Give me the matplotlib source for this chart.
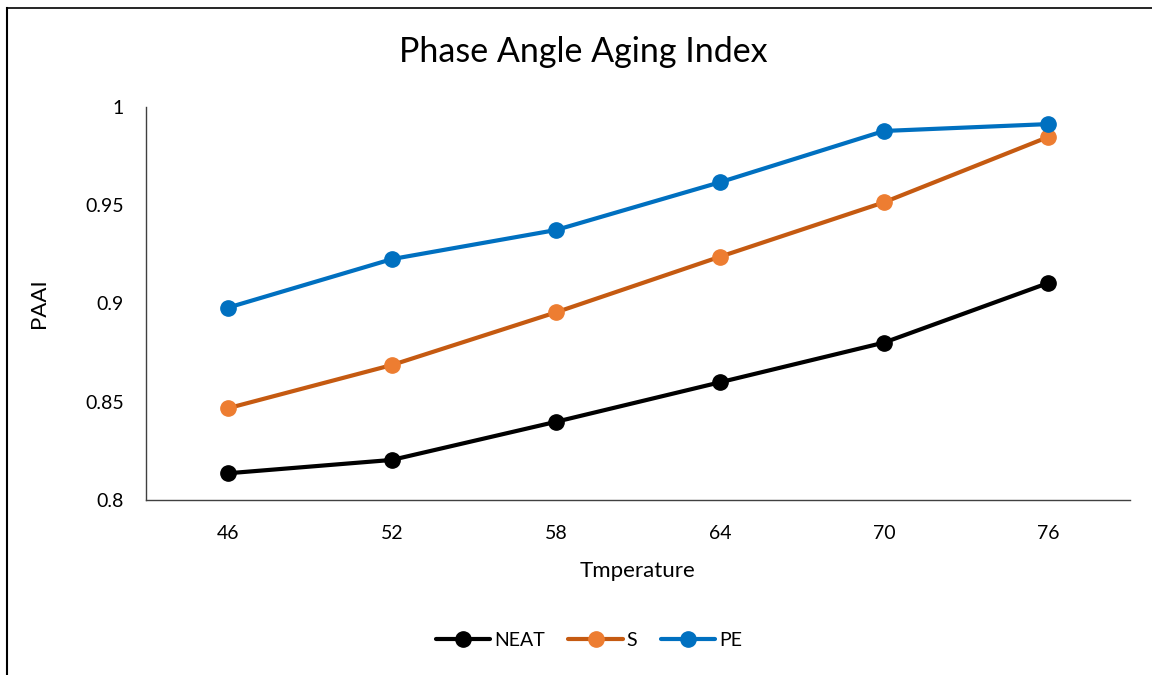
import matplotlib
matplotlib.use('Agg')
import matplotlib.pyplot as plt
from matplotlib.lines import Line2D

temps = ['46', '52', '58', '64', '70', '76']
neat = [0.8136, 0.8204, 0.8398, 0.8599, 0.8801, 0.9104]
s_mod = [0.8467, 0.8687, 0.8955, 0.9238, 0.9515, 0.9847]
pe_mod = [0.8979, 0.9226, 0.9374, 0.9617, 0.9878, 0.9913]
yticks = [0.8, 0.85, 0.9, 0.95, 1.0]
ytick_labels = ['0.8', '0.85', '0.9', '0.95', '1']

plt.rcParams['font.family'] = ['Lato', 'DejaVu Sans']


def main():
    fig = plt.figure(figsize=(11.52, 6.75), dpi=100)
    ax = fig.add_axes([146 / 1152, 1 - 500 / 675, 984 / 1152, 393 / 675])

    x = list(range(len(temps)))
    ax.plot(x, neat, color='black', lw=3, marker='o', ms=11,
            mfc='black', mec='black', label='NEAT', solid_capstyle='round')
    ax.plot(x, s_mod, color='#C55A11', lw=3, marker='o', ms=11,
            mfc='#ED7D31', mec='#ED7D31', label='S', solid_capstyle='round')
    ax.plot(x, pe_mod, color='#0070C0', lw=3, marker='o', ms=11,
            mfc='#0070C0', mec='#0070C0', label='PE', solid_capstyle='round')

    ax.set_xlim(-0.5, len(temps) - 0.5)
    ax.set_ylim(0.8, 1.0)
    ax.set_xticks(x)
    ax.set_xticklabels(temps)
    ax.set_yticks(yticks)
    ax.set_yticklabels(ytick_labels)
    ax.tick_params(length=0, labelsize=14, pad=16, axis='y')
    ax.tick_params(length=0, labelsize=14, pad=18, axis='x')
    for side in ['top', 'right']:
        ax.spines[side].set_visible(False)
    for side in ['left', 'bottom']:
        ax.spines[side].set_color('#404040')
        ax.spines[side].set_linewidth(1)

    ax.set_xlabel('Tmperature', fontsize=16, labelpad=14)
    ax.set_ylabel('PAAI', fontsize=16, labelpad=26)
    fig.text(583 / 1152, 1 - 52 / 675, 'Phase Angle Aging Index',
             fontsize=24.5, ha='center', va='center')

    fig.legend(loc='center', bbox_to_anchor=(589 / 1152, 1 - 640 / 675),
               ncol=3, frameon=False, fontsize=14, handlelength=2.8,
               handletextpad=0.2, columnspacing=1.2)

    # chart frame
    fig.add_artist(Line2D([7 / 1152, 7 / 1152], [0, 1 - 8 / 675],
                          transform=fig.transFigure, color='black', lw=1.5))
    fig.add_artist(Line2D([7 / 1152, 1], [1 - 8 / 675, 1 - 8 / 675],
                          transform=fig.transFigure, color='black', lw=1.2))

    fig.savefig('out.png', dpi=100)


if __name__ == '__main__':
    main()
